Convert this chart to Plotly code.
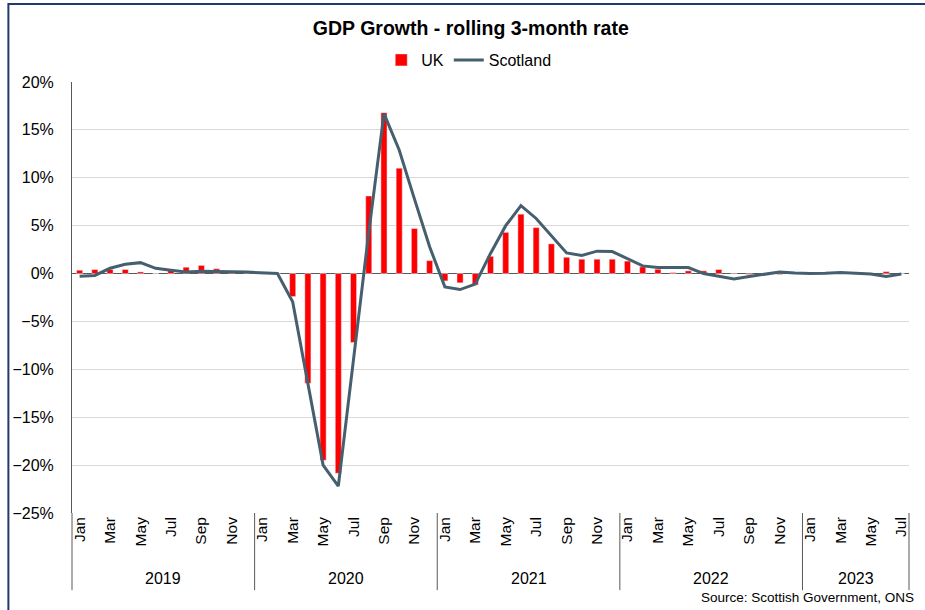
import plotly.graph_objects as go

# Monthly rolling 3-month GDP growth (%), Jan 2019 - Jul 2023
months = ["Jan", "Feb", "Mar", "Apr", "May", "Jun",
          "Jul", "Aug", "Sep", "Oct", "Nov", "Dec"]
years = ["2019", "2020", "2021", "2022", "2023"]
months_in_year = [12, 12, 12, 12, 7]

uk = [
    0.35, 0.42, 0.42, 0.42, 0.17, 0.0, 0.35, 0.66, 0.85, 0.5, 0.2, 0.05,
    0.0, 0.0, -2.4, -11.45, -19.5, -20.85, -7.2, 8.1, 16.8, 11.0, 4.7, 1.35,
    -0.77, -0.97, -1.18, 1.8, 4.3, 6.2, 4.8, 3.1, 1.7, 1.5, 1.5, 1.5,
    1.3, 0.7, 0.45, 0.1, 0.28, 0.28, 0.42, -0.05, -0.1, -0.15, -0.1, 0.0,
    0.05, 0.0, 0.05, 0.05, 0.0, 0.2, 0.0,
]
scotland = [
    -0.28, -0.2, 0.55, 0.97, 1.14, 0.55, 0.35, 0.17, 0.24, 0.25, 0.2, 0.15,
    0.1, 0.0, -2.95, -11.3, -20.0, -22.2, -8.9, 4.3, 16.7, 12.9, 7.8, 2.8,
    -1.39, -1.67, -1.1, 2.1, 5.0, 7.1, 5.75, 4.0, 2.16, 1.9, 2.34, 2.3,
    1.56, 0.8, 0.63, 0.63, 0.63, 0.0, -0.28, -0.56, -0.3, -0.05, 0.15, 0.05,
    0.0, 0.03, 0.1, 0.03, -0.05, -0.3, -0.05,
]

# Category positions and month labels
labels = []
for n in months_in_year:
    labels += months[:n]
x = list(range(len(labels)))
n_total = len(labels)
tickvals = [i for i in x if i % 2 == 0]
ticktext = [labels[i] for i in tickvals]

FONT = "Arial, 'Liberation Sans', sans-serif"
AXIS_GREY = "#595959"

fig = go.Figure()
fig.add_trace(go.Bar(
    x=x, y=uk, name="UK", marker_color="#FF0000", width=0.4,
))
fig.add_trace(go.Scatter(
    x=x, y=scotland, name="Scotland", mode="lines",
    line=dict(color="#455F6E", width=3),
))

# Year group separators beneath the axis and year labels
shapes = []
bounds = [0]
for n in months_in_year:
    bounds.append(bounds[-1] + n)
for b in bounds:
    shapes.append(dict(type="line", xref="paper", yref="paper",
                       x0=b / n_total, x1=b / n_total, y0=0, y1=-0.179,
                       line=dict(color=AXIS_GREY, width=1)))
# Chart frame
shapes.append(dict(type="rect", xref="paper", yref="paper",
                   x0=-0.076, x1=1.035, y0=-0.25, y1=1.181,
                   line=dict(color="#1F3A6E", width=2)))

annotations = []
start = 0
for yr, n in zip(years, months_in_year):
    annotations.append(dict(x=start + (n - 1) / 2, xref="x", y=-0.151, yref="paper",
                            text=yr, showarrow=False, yanchor="middle",
                            font=dict(family=FONT, size=16, color="#000000")))
    start += n
annotations.append(dict(x=1.008, xref="paper", y=-0.195, yref="paper",
                        text="Source: Scottish Government, ONS", showarrow=False,
                        xanchor="right", yanchor="middle",
                        font=dict(family=FONT, size=13.5, color="#000000")))

fig.update_layout(
    width=925, height=610,
    margin=dict(l=69, r=16, t=82, b=97),
    paper_bgcolor="white", plot_bgcolor="white",
    font=dict(family=FONT, color="#000000"),
    title=dict(text="<b>GDP Growth - rolling 3-month rate</b>",
               x=0.509, xref="container", xanchor="center",
               y=0.954, yref="container", yanchor="middle",
               font=dict(family=FONT, size=19.5, color="#000000")),
    legend=dict(orientation="h", x=0.474, xanchor="center",
                y=1.051, yanchor="middle",
                font=dict(family=FONT, size=16, color="#000000"),
                itemwidth=30, tracegroupgap=0),
    bargap=0.6,
    shapes=shapes,
    annotations=annotations,
    showlegend=True,
)
fig.update_xaxes(
    range=[-0.5, n_total - 0.5],
    tickmode="array", tickvals=tickvals, ticktext=ticktext,
    tickangle=-90, showgrid=False, zeroline=False, showline=False,
    ticks="", tickfont=dict(family=FONT, size=15.5, color="#000000"),
)
fig.update_yaxes(
    range=[-25, 20], dtick=5, tick0=0, ticksuffix="%",
    showgrid=True, gridcolor="#D9D9D9", gridwidth=1,
    zeroline=True, zerolinecolor=AXIS_GREY, zerolinewidth=1,
    showline=True, linecolor=AXIS_GREY, linewidth=1,
    ticks="", ticklabelstandoff=14,
    tickfont=dict(family=FONT, size=16, color="#000000"),
)

fig.write_html("out.html")
